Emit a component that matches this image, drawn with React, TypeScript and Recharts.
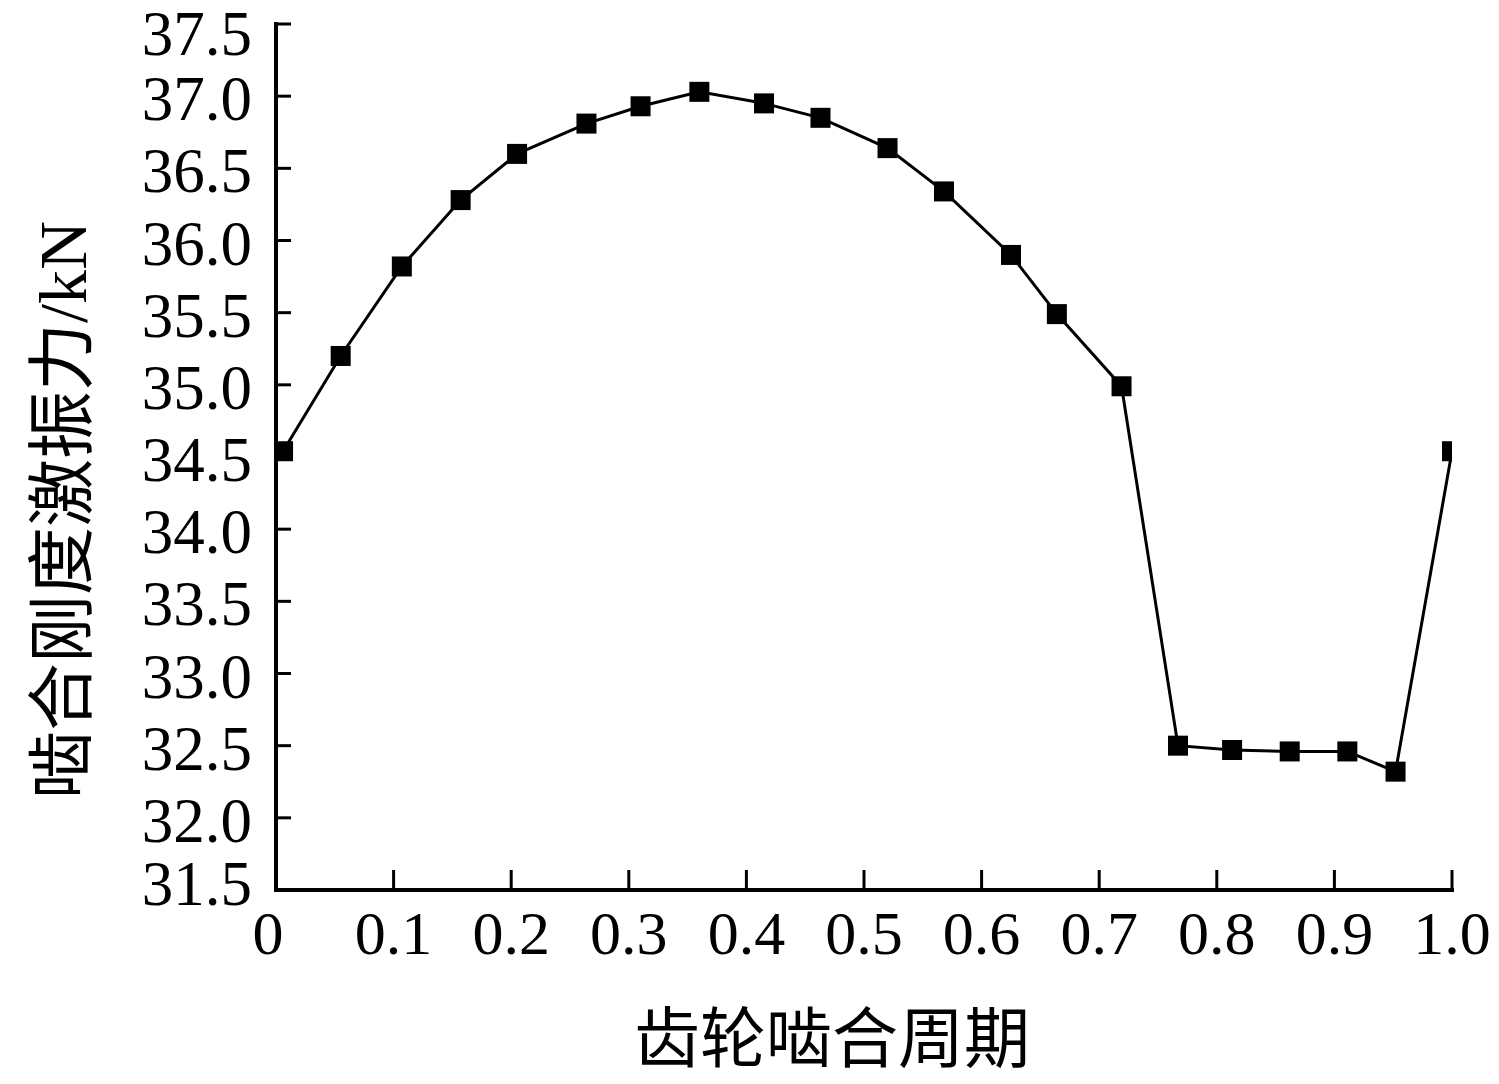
import React from 'react';
import { LineChart, Line, XAxis, YAxis } from 'recharts';

// 齿轮啮合周期 (normalised) vs 啮合刚度激振力 (kN)
const period = [
  0.006, 0.055, 0.107, 0.157, 0.205, 0.264, 0.31, 0.36, 0.415, 0.463, 0.52,
  0.568, 0.625, 0.664, 0.719, 0.767, 0.813, 0.862, 0.911, 0.952, 1.0,
];
const force = [
  34.54, 35.2, 35.82, 36.28, 36.6, 36.81, 36.93, 37.03, 36.95, 36.85, 36.64,
  36.34, 35.9, 35.49, 34.99, 32.5, 32.47, 32.46, 32.46, 32.32, 34.54,
];
const xTicks = [0, 0.1, 0.2, 0.3, 0.4, 0.5, 0.6, 0.7, 0.8, 0.9, 1.0];
const yTicks = [31.5, 32, 32.5, 33, 33.5, 34, 34.5, 35, 35.5, 36, 36.5, 37, 37.5];

const data = period.map((p, i) => ({ period: p, force: force[i] }));

const FONT = '"Liberation Serif", "Times New Roman", "Noto Sans CJK SC", serif';

const Y_MARGIN = 24;
const X_MARGIN = 20;

const YTick = ({ x, y, payload }: any) => {
  // end labels are nudged inward so they do not stick out of the frame
  const nudge = payload.value === 37.5 ? 9 : payload.value === 31.5 ? -7 : 2;
  return (
    <g>
      <line x1={x + Y_MARGIN} y1={y} x2={x + Y_MARGIN + 15} y2={y} stroke="#000" strokeWidth={3} />
      <text x={x} y={y + nudge} dy="0.35em" textAnchor="end" fontFamily={FONT} fontSize={63} fill="#000">
        {payload.value.toFixed(1)}
      </text>
    </g>
  );
};

const XTick = ({ x, y, payload }: any) => (
  <g>
    <line x1={x} y1={y - X_MARGIN} x2={x} y2={y - X_MARGIN - 20} stroke="#000" strokeWidth={3} />
    <text
      x={payload.value === 0 ? x - 8 : x}
      y={y}
      dy="0.71em"
      textAnchor="middle"
      fontFamily={FONT}
      fontSize={62}
      fill="#000"
    >
      {payload.value === 0 ? '0' : payload.value.toFixed(1)}
    </text>
  </g>
);

const SquareDot = ({ cx, cy, index }: any) => (
  <rect key={`dot-${index}`} x={cx - 10} y={cy - 10} width={20} height={20} fill="#000" />
);

const XTitle = ({ viewBox }: any) => (
  <text
    x={viewBox.x + viewBox.width / 2 - 32}
    y={viewBox.y + 149}
    dy="0.35em"
    textAnchor="middle"
    fontFamily={FONT}
    fontSize={66}
    fill="#000"
  >
    齿轮啮合周期
  </text>
);

const YTitle = ({ viewBox }: any) => {
  const cx = 62;
  const cy = viewBox.y + viewBox.height / 2 + 53;
  return (
    <text
      x={cx}
      y={cy}
      dy="0.35em"
      textAnchor="middle"
      transform={`rotate(-90 ${cx} ${cy})`}
      fontFamily={FONT}
      fontSize={68}
      fill="#000"
    >
      啮合刚度激振力/kN
    </text>
  );
};

const axisLine = { stroke: '#000', strokeWidth: 4, strokeLinecap: 'square' as const };

export default function App() {
  return (
    <div style={{ position: 'absolute', left: 0, top: 0, background: '#fff' }}>
      <LineChart width={1499} height={1084} data={data} margin={{ top: 24, right: 47, bottom: 0, left: 0 }}>
        <XAxis
          dataKey="period"
          type="number"
          domain={[0, 1]}
          ticks={xTicks}
          allowDataOverflow
          height={194}
          tickSize={0}
          tickMargin={X_MARGIN}
          tickLine={false}
          axisLine={axisLine}
          tick={<XTick />}
          interval={0}
          label={{ content: <XTitle /> }}
        />
        <YAxis
          dataKey="force"
          type="number"
          domain={[31.5, 37.5]}
          ticks={yTicks}
          allowDataOverflow
          width={276}
          tickSize={0}
          tickMargin={Y_MARGIN}
          tickLine={false}
          axisLine={axisLine}
          tick={<YTick />}
          interval={0}
          label={{ content: <YTitle /> }}
        />
        <Line
          dataKey="force"
          stroke="#000"
          strokeWidth={3}
          dot={<SquareDot />}
          activeDot={false}
          isAnimationActive={false}
          type="linear"
        />
      </LineChart>
    </div>
  );
}
